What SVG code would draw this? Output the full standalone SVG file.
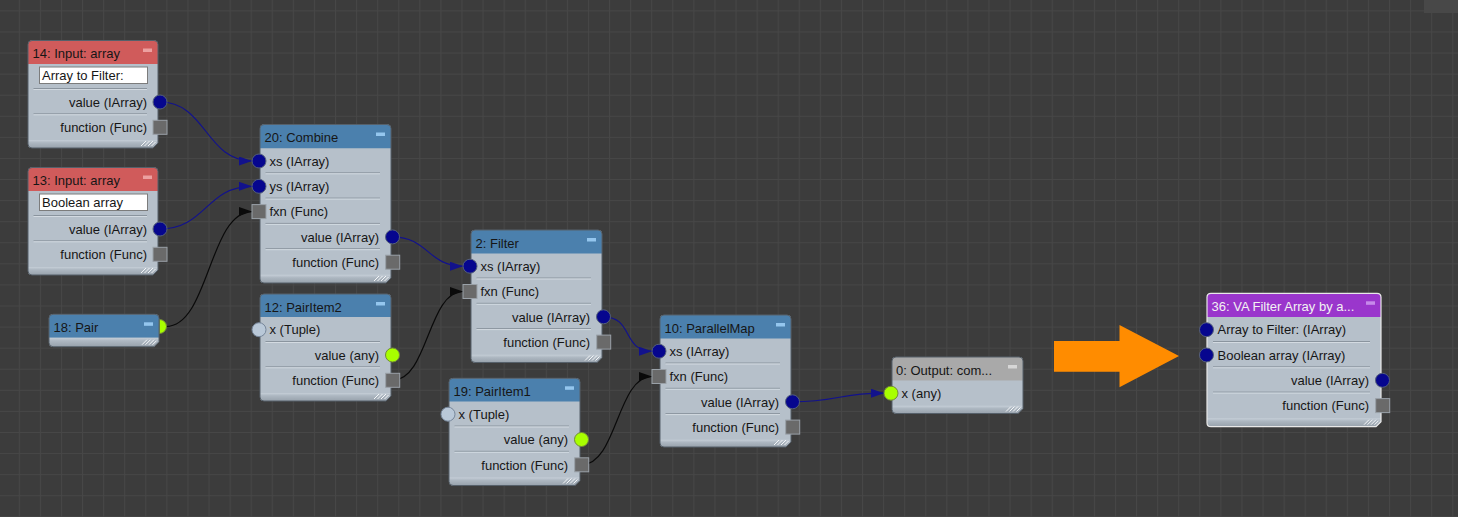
<svg xmlns="http://www.w3.org/2000/svg" width="1458" height="517" viewBox="0 0 1458 517">
<style>
text{font-family:"Liberation Sans",Arial,sans-serif;font-size:13px;fill:#161616}
.r{text-anchor:end}
.tw{fill:#f2f2f2}
.body{fill:#b6c0ca}
.ol{fill:none;stroke:#56606a;stroke-width:1}
.sel{fill:none;stroke:#e8e8e8;stroke-width:1.2}
.hb{fill:#4b80ad}.hr{fill:#d05b5b}.hg{fill:#a9a9a9}.hp{fill:#9a36cc}
.foot{fill:url(#footg)}
.sep{stroke:#8a949e;stroke-width:1}
.seph{stroke:#d3dae1;stroke-width:1}
.mb{fill:#94c6ee}.mr{fill:#eca0a0}.mg{fill:#d6d6d6}.mp{fill:#c68aea}
.field{fill:#ffffff;stroke:#7c7c7c;stroke-width:1}
.pin{fill:#06068e;stroke:#55607a;stroke-width:1}
.psq{fill:#6a6a6a;stroke:#9aa1a8;stroke-width:1}
.pyg{fill:#a8ff00;stroke:#728a3a;stroke-width:1}
.plt{fill:#b9c8d8;stroke:#76869a;stroke-width:1}
.grip{stroke:#f4f6f8;stroke-width:1}
.wire{fill:none;stroke-width:1.2}
.wb{stroke:#12128c}.wk{stroke:#0a0a0a}
</style>
<defs>
<pattern id="grid" patternUnits="userSpaceOnUse" x="18.8" y="10.4" width="21.08" height="21.08">
<rect width="21.08" height="21.08" fill="#3c3c3c"/>
<path d="M0.5,0 V21.08 M0,0.5 H21.08" stroke="#474747" stroke-width="1"/>
</pattern>
<linearGradient id="footg" x1="0" y1="0" x2="0" y2="1">
<stop offset="0" stop-color="#c6cfd8"/>
<stop offset="0.35" stop-color="#adb7c1"/>
<stop offset="1" stop-color="#98a2ac"/>
</linearGradient>
<marker id="ab" markerUnits="userSpaceOnUse" markerWidth="16" markerHeight="12" refX="13" refY="4.5" orient="auto"><path d="M0,0 L13,4.5 L0,9 Z" fill="#12128c"/></marker>
<marker id="ak" markerUnits="userSpaceOnUse" markerWidth="16" markerHeight="12" refX="13" refY="4.5" orient="auto"><path d="M0,0 L13,4.5 L0,9 Z" fill="#0a0a0a"/></marker>
</defs>
<rect width="1458" height="517" fill="url(#grid)"/>
<rect x="1424" y="0" width="34" height="13" fill="#484848"/>

<g id="connectors">
<path class="wire wb" marker-end="url(#ab)" d="M160,102 C206,102 206,161 252,161"/>
<path class="wire wb" marker-end="url(#ab)" d="M160,229 C206,229 206,186.3 252,186.3"/>
<path class="wire wk" marker-end="url(#ak)" d="M166,326.5 C209,326.5 209,211.6 252,211.6"/>
<path class="wire wb" marker-end="url(#ab)" d="M392.5,236.9 C428,236.9 428,266.2 463,266.2"/>
<path class="wire wk" marker-end="url(#ak)" d="M392.7,380.3 C428,380.3 428,291.5 463,291.5"/>
<path class="wire wb" marker-end="url(#ab)" d="M603.5,316.8 C633.5,316.8 622,351.2 652,351.2"/>
<path class="wire wk" marker-end="url(#ak)" d="M581.7,464.8 C617,464.8 617,376.5 652,376.5"/>
<path class="wire wb" marker-end="url(#ab)" d="M792.5,401.8 C838,401.8 838,393.2 884,393.2"/>
</g>

<g id="node14">
<path class="body" d="M32,40.5 H154 Q158,40.5 158,44.5 V143 L153,148 H32 Q28,148 28,144 V44.5 Q28,40.5 32,40.5 Z"/>
<path class="hr" d="M32,40.5 H154 Q158,40.5 158,44.5 V64 H28 V44.5 Q28,40.5 32,40.5 Z"/>
<path class="foot" d="M28,139.9 H158 V143 L153,148 H32 Q28,148 28,144 Z"/>
<rect class="mr" x="143" y="48.5" width="9" height="3.5"/>
<text x="32.5" y="58">14: Input: array</text>
<rect class="field" x="39.5" y="67" width="108" height="16.5"/>
<text x="42" y="80">Array to Filter:</text>
<line class="sep" x1="33.5" y1="88.5" x2="147" y2="88.5"/><line class="seph" x1="33.5" y1="89.5" x2="147" y2="89.5"/>
<line class="sep" x1="33.5" y1="113.8" x2="147" y2="113.8"/><line class="seph" x1="33.5" y1="114.8" x2="147" y2="114.8"/>
<text class="r" x="147" y="106.7">value (IArray)</text>
<text class="r" x="147" y="132">function (Func)</text>
<path class="grip" d="M141,146 L146,141 M144.5,146 L149.5,141 M148,146 L153,141 M151.5,146 L155.5,142"/>
<path class="ol" d="M32,40.5 H154 Q158,40.5 158,44.5 V143 L153,148 H32 Q28,148 28,144 V44.5 Q28,40.5 32,40.5 Z"/>
<circle class="pin" cx="160" cy="102" r="7"/>
<rect class="psq" x="153" y="120.3" width="14" height="14"/>
</g>

<g id="node13">
<path class="body" d="M32,167.5 H154 Q158,167.5 158,171.5 V270 L153,275 H32 Q28,275 28,271 V171.5 Q28,167.5 32,167.5 Z"/>
<path class="hr" d="M32,167.5 H154 Q158,167.5 158,171.5 V191 H28 V171.5 Q28,167.5 32,167.5 Z"/>
<path class="foot" d="M28,266.9 H158 V270 L153,275 H32 Q28,275 28,271 Z"/>
<rect class="mr" x="143" y="175.5" width="9" height="3.5"/>
<text x="32.5" y="185">13: Input: array</text>
<rect class="field" x="39.5" y="194" width="108" height="16.5"/>
<text x="42" y="207">Boolean array</text>
<line class="sep" x1="33.5" y1="215.5" x2="147" y2="215.5"/><line class="seph" x1="33.5" y1="216.5" x2="147" y2="216.5"/>
<line class="sep" x1="33.5" y1="240.8" x2="147" y2="240.8"/><line class="seph" x1="33.5" y1="241.8" x2="147" y2="241.8"/>
<text class="r" x="147" y="233.7">value (IArray)</text>
<text class="r" x="147" y="259">function (Func)</text>
<path class="grip" d="M141,273 L146,268 M144.5,273 L149.5,268 M148,273 L153,268 M151.5,273 L155.5,269"/>
<path class="ol" d="M32,167.5 H154 Q158,167.5 158,171.5 V270 L153,275 H32 Q28,275 28,271 V171.5 Q28,167.5 32,167.5 Z"/>
<circle class="pin" cx="160" cy="229" r="7"/>
<rect class="psq" x="153" y="247.3" width="14" height="14"/>
</g>

<g id="node20">
<path class="body" d="M264,124.5 H387 Q391,124.5 391,128.5 V278 L386,283 H264 Q260,283 260,279 V128.5 Q260,124.5 264,124.5 Z"/>
<path class="hb" d="M264,124.5 H387 Q391,124.5 391,128.5 V148.3 H260 V128.5 Q260,124.5 264,124.5 Z"/>
<path class="foot" d="M260,274.8 H391 V278 L386,283 H264 Q260,283 260,279 Z"/>
<rect class="mb" x="376" y="132.5" width="9" height="3.5"/>
<text x="264.5" y="142">20: Combine</text>
<line class="sep" x1="265.5" y1="172.8" x2="380" y2="172.8"/><line class="seph" x1="265.5" y1="173.8" x2="380" y2="173.8"/>
<line class="sep" x1="265.5" y1="198.1" x2="380" y2="198.1"/><line class="seph" x1="265.5" y1="199.1" x2="380" y2="199.1"/>
<line class="sep" x1="265.5" y1="223.4" x2="380" y2="223.4"/><line class="seph" x1="265.5" y1="224.4" x2="380" y2="224.4"/>
<line class="sep" x1="265.5" y1="248.7" x2="380" y2="248.7"/><line class="seph" x1="265.5" y1="249.7" x2="380" y2="249.7"/>
<text x="269.5" y="165.7">xs (IArray)</text>
<text x="269.5" y="191">ys (IArray)</text>
<text x="269.5" y="216.3">fxn (Func)</text>
<text class="r" x="379" y="241.6">value (IArray)</text>
<text class="r" x="379" y="266.9">function (Func)</text>
<path class="grip" d="M374,281 L379,276 M377.5,281 L382.5,276 M381,281 L386,276 M384.5,281 L388.5,277"/>
<path class="ol" d="M264,124.5 H387 Q391,124.5 391,128.5 V278 L386,283 H264 Q260,283 260,279 V128.5 Q260,124.5 264,124.5 Z"/>
<circle class="pin" cx="259" cy="161" r="7"/>
<circle class="pin" cx="259" cy="186.3" r="7"/>
<rect class="psq" x="252" y="204.6" width="14" height="14"/>
<circle class="pin" cx="392.5" cy="236.9" r="7"/>
<rect class="psq" x="385.7" y="255.2" width="14" height="14"/>
</g>

<g id="node18">
<path class="pyg" d="M159.5,319.5 A7,7 0 0 1 159.5,333.5 Z"/>
<path class="body" d="M53,314.3 H155 Q159,314.3 159,318.3 V341.7 L154,346.7 H53 Q49,346.7 49,342.7 V318.3 Q49,314.3 53,314.3 Z"/>
<path class="hb" d="M53,314.3 H155 Q159,314.3 159,318.3 V337.7 H49 V318.3 Q49,314.3 53,314.3 Z"/>
<path class="foot" d="M49,337.7 H159 V341.7 L154,346.7 H53 Q49,346.7 49,342.7 Z"/>
<rect class="mb" x="144" y="322.3" width="9" height="3.5"/>
<text x="53.5" y="331.8">18: Pair</text>
<path class="grip" d="M142,344.7 L147,339.7 M145.5,344.7 L150.5,339.7 M149,344.7 L154,339.7 M152.5,344.7 L156.5,340.7"/>
<path class="ol" d="M53,314.3 H155 Q159,314.3 159,318.3 V341.7 L154,346.7 H53 Q49,346.7 49,342.7 V318.3 Q49,314.3 53,314.3 Z"/>
</g>

<g id="node12">
<path class="body" d="M264,294 H387 Q391,294 391,298 V396 L386,401 H264 Q260,401 260,397 V298 Q260,294 264,294 Z"/>
<path class="hb" d="M264,294 H387 Q391,294 391,298 V317 H260 V298 Q260,294 264,294 Z"/>
<path class="foot" d="M260,392.9 H391 V396 L386,401 H264 Q260,401 260,397 Z"/>
<rect class="mb" x="376" y="302" width="9" height="3.5"/>
<text x="264.5" y="311.5">12: PairItem2</text>
<line class="sep" x1="265.5" y1="341.5" x2="380" y2="341.5"/><line class="seph" x1="265.5" y1="342.5" x2="380" y2="342.5"/>
<line class="sep" x1="265.5" y1="366.8" x2="380" y2="366.8"/><line class="seph" x1="265.5" y1="367.8" x2="380" y2="367.8"/>
<text x="269.5" y="334.4">x (Tuple)</text>
<text class="r" x="379" y="359.7">value (any)</text>
<text class="r" x="379" y="385">function (Func)</text>
<path class="grip" d="M374,399 L379,394 M377.5,399 L382.5,394 M381,399 L386,394 M384.5,399 L388.5,395"/>
<path class="ol" d="M264,294 H387 Q391,294 391,298 V396 L386,401 H264 Q260,401 260,397 V298 Q260,294 264,294 Z"/>
<circle class="plt" cx="259" cy="329.7" r="7"/>
<circle class="pyg" cx="392.5" cy="355" r="7"/>
<rect class="psq" x="385.7" y="373.3" width="14" height="14"/>
</g>

<g id="node2">
<path class="body" d="M475,230 H598 Q602,230 602,234 V357.5 L597,362.5 H475 Q471,362.5 471,358.5 V234 Q471,230 475,230 Z"/>
<path class="hb" d="M475,230 H598 Q602,230 602,234 V253.5 H471 V234 Q471,230 475,230 Z"/>
<path class="foot" d="M471,354.7 H602 V357.5 L597,362.5 H475 Q471,362.5 471,358.5 Z"/>
<rect class="mb" x="587" y="238" width="9" height="3.5"/>
<text x="475.5" y="247.5">2: Filter</text>
<line class="sep" x1="476.5" y1="278" x2="591" y2="278"/><line class="seph" x1="476.5" y1="279" x2="591" y2="279"/>
<line class="sep" x1="476.5" y1="303.3" x2="591" y2="303.3"/><line class="seph" x1="476.5" y1="304.3" x2="591" y2="304.3"/>
<line class="sep" x1="476.5" y1="328.6" x2="591" y2="328.6"/><line class="seph" x1="476.5" y1="329.6" x2="591" y2="329.6"/>
<text x="480.5" y="270.9">xs (IArray)</text>
<text x="480.5" y="296.2">fxn (Func)</text>
<text class="r" x="590" y="321.5">value (IArray)</text>
<text class="r" x="590" y="346.8">function (Func)</text>
<path class="grip" d="M585,360.5 L590,355.5 M588.5,360.5 L593.5,355.5 M592,360.5 L597,355.5 M595.5,360.5 L599.5,356.5"/>
<path class="ol" d="M475,230 H598 Q602,230 602,234 V357.5 L597,362.5 H475 Q471,362.5 471,358.5 V234 Q471,230 475,230 Z"/>
<circle class="pin" cx="470" cy="266.2" r="7"/>
<rect class="psq" x="463" y="284.5" width="14" height="14"/>
<circle class="pin" cx="603.5" cy="316.8" r="7"/>
<rect class="psq" x="596.7" y="335.1" width="14" height="14"/>
</g>

<g id="node19">
<path class="body" d="M453,378.3 H576 Q580,378.3 580,382.3 V480.5 L575,485.5 H453 Q449,485.5 449,481.5 V382.3 Q449,378.3 453,378.3 Z"/>
<path class="hb" d="M453,378.3 H576 Q580,378.3 580,382.3 V401.5 H449 V382.3 Q449,378.3 453,378.3 Z"/>
<path class="foot" d="M449,477.4 H580 V480.5 L575,485.5 H453 Q449,485.5 449,481.5 Z"/>
<rect class="mb" x="565" y="386.3" width="9" height="3.5"/>
<text x="453.5" y="395.8">19: PairItem1</text>
<line class="sep" x1="454.5" y1="426" x2="569" y2="426"/><line class="seph" x1="454.5" y1="427" x2="569" y2="427"/>
<line class="sep" x1="454.5" y1="451.3" x2="569" y2="451.3"/><line class="seph" x1="454.5" y1="452.3" x2="569" y2="452.3"/>
<text x="458.5" y="418.9">x (Tuple)</text>
<text class="r" x="568" y="444.2">value (any)</text>
<text class="r" x="568" y="469.5">function (Func)</text>
<path class="grip" d="M563,483.5 L568,478.5 M566.5,483.5 L571.5,478.5 M570,483.5 L575,478.5 M573.5,483.5 L577.5,479.5"/>
<path class="ol" d="M453,378.3 H576 Q580,378.3 580,382.3 V480.5 L575,485.5 H453 Q449,485.5 449,481.5 V382.3 Q449,378.3 453,378.3 Z"/>
<circle class="plt" cx="448" cy="414.2" r="7"/>
<circle class="pyg" cx="581.5" cy="439.5" r="7"/>
<rect class="psq" x="574.7" y="457.8" width="14" height="14"/>
</g>

<g id="node10">
<path class="body" d="M664,315 H787 Q791,315 791,319 V442 L786,447 H664 Q660,447 660,443 V319 Q660,315 664,315 Z"/>
<path class="hb" d="M664,315 H787 Q791,315 791,319 V338.5 H660 V319 Q660,315 664,315 Z"/>
<path class="foot" d="M660,439.7 H791 V442 L786,447 H664 Q660,447 660,443 Z"/>
<rect class="mb" x="776" y="323" width="9" height="3.5"/>
<text x="664.5" y="332.5">10: ParallelMap</text>
<line class="sep" x1="665.5" y1="363" x2="780" y2="363"/><line class="seph" x1="665.5" y1="364" x2="780" y2="364"/>
<line class="sep" x1="665.5" y1="388.3" x2="780" y2="388.3"/><line class="seph" x1="665.5" y1="389.3" x2="780" y2="389.3"/>
<line class="sep" x1="665.5" y1="413.6" x2="780" y2="413.6"/><line class="seph" x1="665.5" y1="414.6" x2="780" y2="414.6"/>
<text x="669.5" y="355.9">xs (IArray)</text>
<text x="669.5" y="381.2">fxn (Func)</text>
<text class="r" x="779" y="406.5">value (IArray)</text>
<text class="r" x="779" y="431.8">function (Func)</text>
<path class="grip" d="M774,445 L779,440 M777.5,445 L782.5,440 M781,445 L786,440 M784.5,445 L788.5,441"/>
<path class="ol" d="M664,315 H787 Q791,315 791,319 V442 L786,447 H664 Q660,447 660,443 V319 Q660,315 664,315 Z"/>
<circle class="pin" cx="659" cy="351.2" r="7"/>
<rect class="psq" x="652" y="369.5" width="14" height="14"/>
<circle class="pin" cx="792.5" cy="401.8" r="7"/>
<rect class="psq" x="785.7" y="420.1" width="14" height="14"/>
</g>

<g id="node0">
<path class="body" d="M896,357 H1019 Q1023,357 1023,361 V408.5 L1018,413.5 H896 Q892,413.5 892,409.5 V361 Q892,357 896,357 Z"/>
<path class="hg" d="M896,357 H1019 Q1023,357 1023,361 V380.5 H892 V361 Q892,357 896,357 Z"/>
<path class="foot" d="M892,405.8 H1023 V408.5 L1018,413.5 H896 Q892,413.5 892,409.5 Z"/>
<rect class="mg" x="1008" y="365" width="9" height="3.5"/>
<text x="896" y="374.5">0: Output: com...</text>
<text x="901.5" y="397.9">x (any)</text>
<path class="grip" d="M1006,411.5 L1011,406.5 M1009.5,411.5 L1014.5,406.5 M1013,411.5 L1018,406.5 M1016.5,411.5 L1020.5,407.5"/>
<path class="ol" d="M896,357 H1019 Q1023,357 1023,361 V408.5 L1018,413.5 H896 Q892,413.5 892,409.5 V361 Q892,357 896,357 Z"/>
<circle class="pyg" cx="891" cy="393.2" r="7"/>
</g>

<g id="arrow">
<polygon points="1054,341 1119.5,341 1119.5,325 1179,356 1119.5,387.3 1119.5,371.7 1054,371.7" fill="#ff8c00"/>
</g>

<g id="node36">
<path class="body" d="M1211,293.3 H1377 Q1381,293.3 1381,297.3 V421.7 L1376,426.7 H1211 Q1207,426.7 1207,422.7 V297.3 Q1207,293.3 1211,293.3 Z"/>
<path class="hp" d="M1211,293.3 H1377 Q1381,293.3 1381,297.3 V317 H1207 V297.3 Q1207,293.3 1211,293.3 Z"/>
<path class="foot" d="M1207,418.2 H1381 V421.7 L1376,426.7 H1211 Q1207,426.7 1207,422.7 Z"/>
<rect class="mp" x="1366" y="301.3" width="9" height="3.5"/>
<text class="tw" x="1211.5" y="310.8">36: VA Filter Array by a...</text>
<line class="sep" x1="1213" y1="341.5" x2="1370" y2="341.5"/><line class="seph" x1="1213" y1="342.5" x2="1370" y2="342.5"/>
<line class="sep" x1="1213" y1="366.8" x2="1370" y2="366.8"/><line class="seph" x1="1213" y1="367.8" x2="1370" y2="367.8"/>
<line class="sep" x1="1213" y1="392.1" x2="1370" y2="392.1"/><line class="seph" x1="1213" y1="393.1" x2="1370" y2="393.1"/>
<text x="1217.5" y="334.4">Array to Filter: (IArray)</text>
<text x="1217.5" y="359.7">Boolean array (IArray)</text>
<text class="r" x="1369" y="385">value (IArray)</text>
<text class="r" x="1369" y="410.3">function (Func)</text>
<path class="grip" d="M1364,424.7 L1369,419.7 M1367.5,424.7 L1372.5,419.7 M1371,424.7 L1376,419.7 M1374.5,424.7 L1378.5,420.7"/>
<path class="sel" d="M1211,293.3 H1377 Q1381,293.3 1381,297.3 V421.7 L1376,426.7 H1211 Q1207,426.7 1207,422.7 V297.3 Q1207,293.3 1211,293.3 Z"/>
<circle class="pin" cx="1206.5" cy="329.7" r="7"/>
<circle class="pin" cx="1206.5" cy="355" r="7"/>
<circle class="pin" cx="1382.5" cy="380.3" r="7"/>
<rect class="psq" x="1375.7" y="398.6" width="14" height="14"/>
</g>
</svg>
